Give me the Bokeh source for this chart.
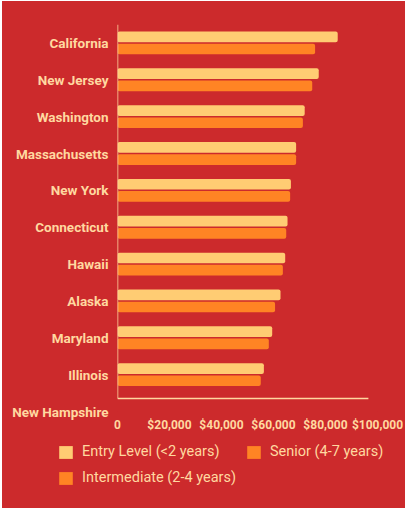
from bokeh.plotting import figure
from bokeh.layouts import column
from bokeh.models import (Range1d, FixedTicker, Legend, LegendItem,
                          ColumnDataSource)
from bokeh.embed import file_html
from bokeh.resources import INLINE

# ---- data ----
states = ["California", "New Jersey", "Washington", "Massachusetts", "New York",
          "Connecticut", "Hawaii", "Alaska", "Maryland", "Illinois", "New Hampshire"]
entry_level = [84700, 77400, 72000, 68700, 66700, 65400, 64500, 62700, 59500, 56300, 0]
intermediate = [76000, 74900, 71300, 68700, 66400, 64900, 63600, 60600, 58200, 55100, 0]
x_ticks = [0, 20000, 40000, 60000, 80000, 100000]
x_tick_labels = ["0", "$20,000", "$40,000", "$60,000", "$80,000", "$100,000"]
series_names = ["Entry Level (<2 years)", "Intermediate (2-4 years)", "Senior (4-7 years)"]

# ---- styles / layout ----
BG = "#CC2A2C"
ENTRY = "#FFCC73"
ORANGE = "#FF8424"
TEXT = "#FFD8A0"
FONT = "Roboto"
AXIS_BASE = 0.35      # where the drawn baseline sits (between last two rows)
AXIS_LEN = 96500      # length of drawn baseline
Y_TOP = 10.5

n = len(states)
ypos = [n - 1 - i for i in range(n)]
off = 0.165
src_entry = ColumnDataSource(dict(y=[v + off for v in ypos], right=entry_level))
src_inter = ColumnDataSource(dict(y=[v - off for v in ypos], right=intermediate))

p = figure(frame_width=260, frame_height=387, output_backend="svg", toolbar_location=None,
           x_range=Range1d(0, 100000), y_range=Range1d(0, Y_TOP),
           min_border_left=115, min_border_right=28, min_border_top=23,
           min_border_bottom=24)
p.frame_align = False
p.background_fill_color = BG
p.border_fill_color = BG
p.outline_line_color = None
p.xgrid.visible = False
p.ygrid.visible = False

p.hbar(y="y", right="right", left=0, height=0.29, source=src_entry,
       fill_color=ENTRY, line_color=None, border_radius=2)
p.hbar(y="y", right="right", left=0, height=0.29, source=src_inter,
       fill_color=ORANGE, line_color=None, border_radius=2)

# axis lines
p.segment(x0=[0, 0], y0=[AXIS_BASE, AXIS_BASE], x1=[AXIS_LEN, 0], y1=[AXIS_BASE, Y_TOP],
          line_color=TEXT, line_width=1.5)

for ax in (p.xaxis[0], p.yaxis[0]):
    ax.axis_line_color = None
    ax.major_tick_line_color = None
    ax.minor_tick_line_color = None
    ax.major_label_text_color = TEXT
    ax.major_label_text_font = FONT
    ax.major_label_text_font_style = "bold"

p.xaxis.ticker = FixedTicker(ticks=x_ticks)
p.xaxis.major_label_overrides = {t: l for t, l in zip(x_ticks, x_tick_labels)}
p.xaxis.major_label_text_font_size = "12px"
p.xaxis.major_label_standoff = 0

p.yaxis.ticker = FixedTicker(ticks=ypos)
p.yaxis.major_label_overrides = {y: s for y, s in zip(ypos, states)}
p.yaxis.major_label_text_font_size = "13.5px"
p.yaxis.major_label_standoff = 3

# ---- legend strip (same series, drawn outside its visible range) ----
lg = figure(width=403, height=73, output_backend="svg", toolbar_location=None,
            x_range=Range1d(0, 1), y_range=Range1d(1000, 1001),
            x_axis_type=None, y_axis_type=None, min_border=0)
lg.frame_align = False
lg.background_fill_color = BG
lg.border_fill_color = BG
lg.outline_line_color = None
lg.xgrid.visible = False
lg.ygrid.visible = False

r_entry = lg.hbar(y="y", right="right", left=0, height=0.29, source=src_entry,
                  fill_color=ENTRY, line_color=None, border_radius=2)
r_inter = lg.hbar(y="y", right="right", left=0, height=0.29, source=src_inter,
                  fill_color=ORANGE, line_color=None, border_radius=2)
r_senior = lg.hbar(y="y", right="right", left=0, height=0.29, source=src_inter,
                   fill_color=ORANGE, line_color=None, border_radius=2)

legend = Legend(items=[LegendItem(label=series_names[0], renderers=[r_entry]),
                       LegendItem(label=series_names[1], renderers=[r_inter]),
                       LegendItem(label=series_names[2], renderers=[r_senior])],
                location=(55, 22), orientation="vertical", nrows=2,
                glyph_width=17, glyph_height=16, label_height=16,
                label_standoff=8, spacing=9, padding=0, margin=0,
                background_fill_alpha=0, border_line_color=None,
                label_text_color=TEXT, label_text_font=FONT,
                label_text_font_size="14.5px")
lg.add_layout(legend, "center")

layout = column(p, lg, spacing=0,
                styles={"background-color": BG, "margin-left": "2px", "margin-top": "1px"})
open("out.html", "w").write(file_html(layout, INLINE))
